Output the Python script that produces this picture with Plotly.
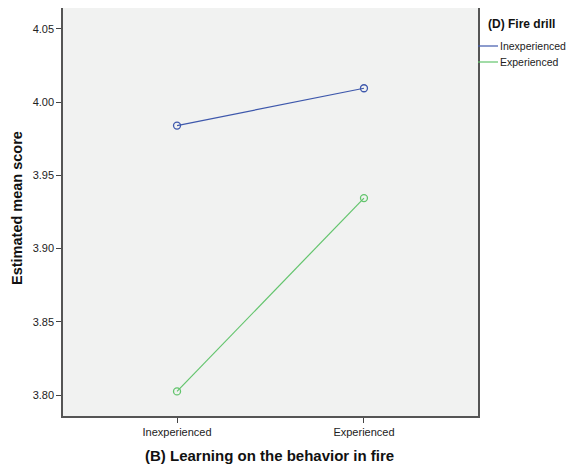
import plotly.graph_objects as go

categories = ["Inexperienced", "Experienced"]
series_names = ["Inexperienced", "Experienced"]
inexperienced_vals = [3.984, 4.0095]
experienced_vals = [3.8025, 3.9345]
y_ticks = [3.80, 3.85, 3.90, 3.95, 4.00, 4.05]
y_tick_labels = ["3.80", "3.85", "3.90", "3.95", "4.00", "4.05"]
legend_title = "(D) Fire drill"
x_title = "(B) Learning on the behavior in fire"
y_title = "Estimated mean score"

colors = ["#3E58AC", "#62C46C"]
font_family = "Liberation Sans, Arial, sans-serif"

# the page body has an 8px margin; compensate so the plot lands where it should
OFF = 8
L, R, T, B = 55, 96, 0, 51
W, H = 566, 459
pw, ph = W - L - R, H - T - B

def px_x(x):
    return (x - OFF - L) / pw

def px_y(y):
    return (H - B - (y - OFF)) / ph

fig = go.Figure()
x_idx = list(range(len(categories)))
for name, vals, c in zip(series_names, [inexperienced_vals, experienced_vals], colors):
    fig.add_trace(go.Scatter(
        x=x_idx, y=vals, mode="lines+markers", name=name, showlegend=False,
        line=dict(color=c, width=1.2),
        marker=dict(symbol="circle-open", size=7, color=c, line=dict(width=1.3)),
        hoverinfo="x+y+name",
    ))

annotations = [
    dict(text="<b>" + legend_title + "</b>", xref="paper", yref="paper",
         x=px_x(486), y=px_y(24), xanchor="left", yanchor="middle",
         showarrow=False, font=dict(size=12, color="#111")),
    dict(text="<b>" + x_title + "</b>", xref="paper", yref="paper",
         x=px_x(269), y=px_y(455), xanchor="center", yanchor="middle",
         showarrow=False, font=dict(size=15, color="#111")),
    dict(text="<b>" + y_title + "</b>", xref="paper", yref="paper",
         x=px_x(17), y=px_y(208), xanchor="center", yanchor="middle", textangle=-90,
         showarrow=False, font=dict(size=14.5, color="#111"), borderpad=0),
]
shapes = []
for i, (name, c) in enumerate(zip(series_names, colors)):
    yy = 46 + 16 * i
    shapes.append(dict(type="line", xref="paper", yref="paper",
                       x0=px_x(478), x1=px_x(498), y0=px_y(yy), y1=px_y(yy),
                       line=dict(color=c, width=1.2)))
    annotations.append(dict(text=name, xref="paper", yref="paper",
                            x=px_x(499), y=px_y(yy), xanchor="left", yanchor="middle",
                            showarrow=False, font=dict(size=10.5, color="#222"),
                            borderpad=0))

fig.update_layout(
    width=W, height=H,
    margin=dict(l=L, r=R, t=T, b=B, autoexpand=False),
    paper_bgcolor="white",
    plot_bgcolor="#F1F2F1",
    font=dict(family=font_family, size=11, color="#222"),
    showlegend=False,
    annotations=annotations,
    shapes=shapes,
    xaxis=dict(
        range=[-0.61, 1.61], automargin=False,
        tickvals=x_idx, ticktext=categories,
        ticks="outside", ticklen=5, tickcolor="#444", tickwidth=1,
        showgrid=False, zeroline=False,
        showline=True, linecolor="#555", linewidth=1.5, mirror=True,
    ),
    yaxis=dict(
        range=[3.7857, 4.0643], automargin=False,
        tickvals=y_ticks, ticktext=y_tick_labels,
        ticks="outside", ticklen=5, tickcolor="#444", tickwidth=1,
        showgrid=False, zeroline=False,
        showline=True, linecolor="#555", linewidth=1.5, mirror=True,
    ),
)

fig.write_html("out.html")
